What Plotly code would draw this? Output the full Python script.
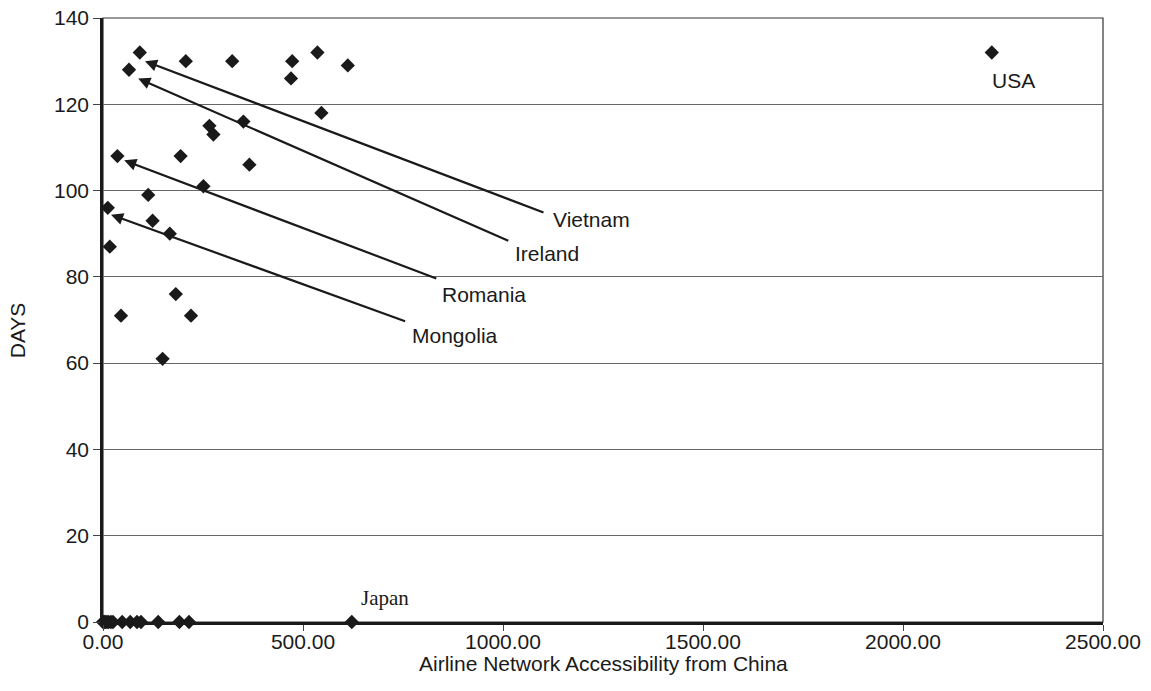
import plotly.graph_objects as go

# Data points (x = airline network accessibility, y = days)
x_pos = [92, 65, 207, 323, 473, 536, 612, 470, 546, 351, 266, 276, 366,
         36, 194, 251, 113, 12, 124, 167, 17, 182, 45, 220, 149, 2222]
y_pos = [132, 128, 130, 130, 130, 132, 129, 126, 118, 116, 115, 113, 106,
         108, 108, 101, 99, 96, 93, 90, 87, 76, 71, 71, 61, 132]

x_zero = [0, 3, 6, 10, 14, 20, 25, 48, 68, 85, 95, 138, 191, 215, 622]
y_zero = [0] * len(x_zero)

# Arrow annotations: label, tip (x, y), tail (x, y), label position (x, y)
arrow_labels = ["Vietnam", "Ireland", "Romania", "Mongolia"]
arrow_tip_x = [105, 88, 53, 20]
arrow_tip_y = [130, 126, 107, 94.4]
arrow_tail_x = [1105, 1017, 837, 759]
arrow_tail_y = [94.8, 88.2, 79.5, 69.6]
label_x = [1222, 1110, 953, 880]
label_y = [93.3, 85.5, 75.8, 66.3]

x_ticks = [0, 500, 1000, 1500, 2000, 2500]
y_ticks = [0, 20, 40, 60, 80, 100, 120, 140]

FONT = "Liberation Sans, Arial, sans-serif"
INK = "#1a1a1a"
FS = 21

fig = go.Figure()
fig.add_trace(go.Scatter(
    x=x_pos + x_zero, y=y_pos + y_zero, mode="markers",
    marker=dict(symbol="diamond", size=11, color=INK),
    cliponaxis=False, showlegend=False, hoverinfo="x+y"))

for lab, tx, ty, ax_, ay_, lx, ly in zip(arrow_labels, arrow_tip_x, arrow_tip_y,
                                         arrow_tail_x, arrow_tail_y, label_x, label_y):
    fig.add_annotation(x=tx, y=ty, ax=ax_, ay=ay_, xref="x", yref="y",
                       axref="x", ayref="y", text="", showarrow=True,
                       arrowhead=2, arrowsize=1.1, arrowwidth=2.2, arrowcolor=INK)
    fig.add_annotation(x=lx, y=ly, xref="x", yref="y", text=lab, showarrow=False,
                       font=dict(family=FONT, size=FS, color=INK))

fig.add_annotation(x=2275, y=125.5, xref="x", yref="y", text="USA", showarrow=False,
                   font=dict(family=FONT, size=FS, color=INK))
fig.add_annotation(x=705, y=5.6, xref="x", yref="y", text="Japan", showarrow=False,
                   font=dict(family="Liberation Serif, Times New Roman, serif", size=21, color=INK))

# axis titles
fig.add_annotation(x=0.5, y=-0.0695, xref="paper", yref="paper",
                   text="Airline Network Accessibility from China", showarrow=False,
                   xanchor="center", yanchor="middle",
                   font=dict(family=FONT, size=FS, color=INK))
fig.add_annotation(x=-0.086, y=0.483, xref="paper", yref="paper", text="DAYS",
                   showarrow=False, textangle=-90, xanchor="center", yanchor="middle",
                   font=dict(family=FONT, size=FS, color=INK))

# plot-area border (top and right)
fig.add_shape(type="rect", xref="paper", yref="paper", x0=0, y0=0, x1=1, y1=1,
              line=dict(color="#333333", width=1.2), layer="below")

fig.update_layout(
    width=1151, height=691,
    margin=dict(l=103, r=48, t=18, b=69, autoexpand=False),
    paper_bgcolor="white", plot_bgcolor="white",
    font=dict(family=FONT, size=FS, color=INK),
    showlegend=False,
    xaxis=dict(range=[0, 2500], tickvals=x_ticks, tickformat=".2f",
               showgrid=False, zeroline=False, showline=True, linecolor=INK,
               linewidth=2.5, ticks="outside", ticklen=6, tickcolor="#444",
               automargin=False, ticklabelstandoff=-7,
               tickfont=dict(family=FONT, size=FS, color=INK)),
    yaxis=dict(range=[0, 140], tickvals=y_ticks, showgrid=True,
               gridcolor="#666666", gridwidth=1, zeroline=False, showline=True,
               linecolor=INK, linewidth=2.5, ticks="outside", ticklen=7,
               automargin=False,
               tickcolor="#444", tickfont=dict(family=FONT, size=FS, color=INK)),
)

fig.write_html("out.html", config={"displayModeBar": False},
               post_script="document.body.style.margin='0';document.body.style.overflow='hidden';")
